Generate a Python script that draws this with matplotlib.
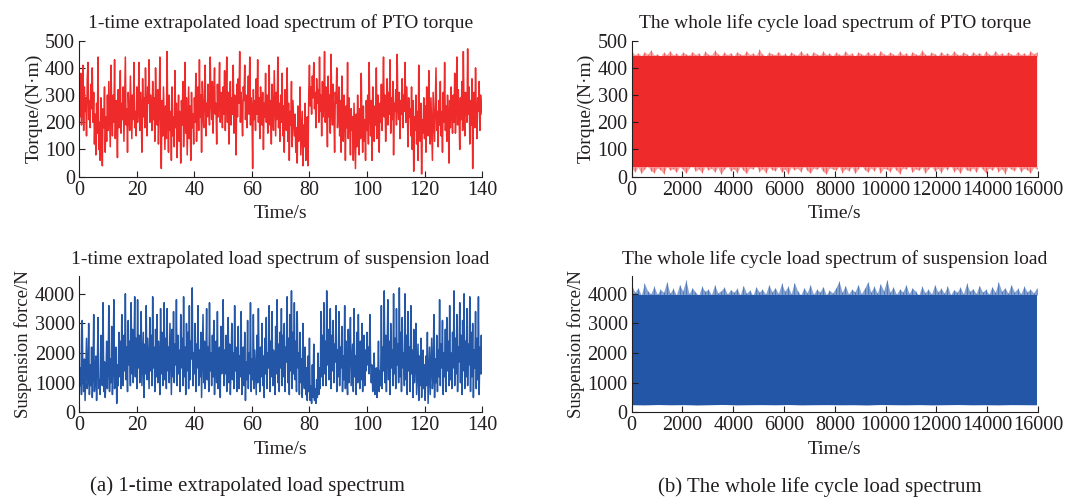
import numpy as np
import matplotlib.pyplot as plt

plt.rcParams['font.family'] = ['Liberation Serif', 'DejaVu Serif']

# 1-time extrapolated PTO torque (N·m), one value every 0.25 s over 0-140 s
torque_1x = [
    300, 220, 380, 190, 260, 410, 170, 330, 240, 290, 150, 360, 420, 210, 280, 180, 340, 250, 400, 200,
    310, 120, 230, 80, 270, 160, 440, 100, 200, 60, 290, 140, 40, 250, 180, 330, 90, 220, 130, 300,
    170, 350, 230, 110, 410, 260, 150, 300, 200, 430, 140, 280, 220, 70, 320, 180, 250, 390, 160, 270,
    210, 330, 130, 280, 440, 190, 250, 90, 310, 230, 170, 370, 260, 140, 300, 210, 420, 180, 240, 150,
    330, 200, 270, 420, 170, 310, 240, 90, 360, 220, 290, 180, 400, 250, 150, 330, 270, 430, 200, 300,
    240, 170, 350, 210, 290, 130, 400, 260, 190, 320, 120, 250, 440, 180, 30, 280, 150, 330, 210, 100,
    260, 140, 460, 200, 90, 300, 170, 240, 60, 330, 150, 220, 110, 390, 180, 270, 70, 210, 300, 130,
    240, 50, 280, 190, 350, 110, 230, 420, 160, 290, 80, 200, 330, 140, 260, 60, 310, 180, 230, 120,
    290, 200, 380, 130, 260, 330, 170, 430, 220, 300, 90, 350, 240, 180, 310, 410, 150, 270, 220, 340,
    250, 190, 440, 280, 210, 350, 160, 300, 400, 230, 270, 120, 340, 220, 290, 420, 200, 310, 260, 180,
    330, 230, 390, 170, 280, 440, 200, 310, 120, 260, 350, 190, 290, 230, 410, 160, 300, 250, 80, 340,
    220, 360, 270, 460, 200, 310, 240, 150, 330, 280, 410, 210, 300, 180, 260, 370, 230, 440, 190, 290,
    250, 30, 320, 210, 280, 170, 360, 230, 430, 200, 290, 140, 330, 250, 190, 310, 100, 270, 220, 380,
    200, 300, 160, 250, 410, 190, 280, 120, 340, 230, 170, 390, 260, 150, 310, 210, 440, 180, 270, 130,
    300, 200, 380, 150, 260, 90, 320, 220, 170, 400, 130, 270, 60, 240, 190, 350, 110, 280, 210, 150,
    230, 90, 180, 50, 260, 130, 200, 330, 80, 160, 240, 40, 190, 110, 270, 60, 150, 220, 40, 300,
    410, 260, 330, 230, 370, 290, 420, 250, 310, 180, 360, 270, 320, 200, 440, 240, 300, 150, 350, 220,
    290, 460, 200, 330, 250, 110, 370, 220, 300, 160, 450, 260, 190, 340, 230, 90, 310, 270, 400, 180,
    240, 330, 150, 280, 90, 370, 200, 130, 300, 230, 60, 260, 180, 420, 140, 290, 210, 80, 250, 170,
    220, 60, 270, 150, 30, 230, 110, 300, 180, 80, 250, 140, 380, 200, 90, 260, 130, 210, 60, 280,
    170, 300, 120, 420, 230, 150, 280, 60, 330, 210, 130, 260, 190, 400, 140, 300, 230, 90, 270, 200,
    340, 170, 280, 440, 220, 300, 130, 260, 360, 190, 310, 230, 430, 160, 290, 210, 350, 80, 270, 240,
    320, 190, 450, 250, 210, 310, 140, 280, 230, 360, 180, 300, 240, 420, 200, 330, 260, 110, 290, 220,
    250, 150, 330, 100, 280, 20, 220, 170, 300, 120, 240, 60, 410, 190, 130, 270, 10, 210, 160, 290,
    140, 260, 90, 330, 200, 150, 390, 230, 120, 290, 180, 60, 310, 220, 130, 270, 400, 170, 240, 110,
    280, 190, 350, 150, 240, 90, 310, 200, 420, 170, 260, 130, 300, 220, 50, 280, 180, 330, 230, 160,
    300, 200, 380, 160, 250, 440, 190, 320, 230, 100, 290, 210, 350, 170, 460, 240, 150, 310, 270, 200,
    470, 230, 330, 120, 280, 190, 360, 30, 250, 310, 180, 400, 220, 140, 290, 240, 350, 170, 300, 260,
    230,
]

# 1-time extrapolated suspension force (N), one value every 0.25 s over 0-140 s
susp_1x = [
    2800, 900, 1500, 600, 3100, 1200, 700, 1800, 400, 1400, 2500, 800, 1100, 3000, 600, 1600, 900, 2200, 500, 1300,
    3300, 700, 1200, 1900, 400, 1500, 3200, 800, 1100, 600, 2600, 1300, 900, 3700, 700, 1700, 500, 1200, 2400, 800,
    1400, 3600, 700, 1800, 1000, 2900, 600, 1500, 3800, 800, 1200, 2200, 300, 1600, 900, 2700, 1200, 2400, 800, 3300,
    1900, 900, 2600, 1400, 4000, 1100, 2200, 700, 3100, 1600, 2400, 900, 3700, 1300, 2800, 1000, 2000, 3900, 1200, 2500,
    800, 3800, 1500, 2600, 1000, 2100, 3400, 900, 1800, 2700, 500, 2300, 1300, 3600, 1100, 2500, 1700, 800, 3200, 1400,
    2600, 900, 3900, 1500, 2200, 700, 2800, 1200, 3300, 1000, 2400, 1700, 600, 3500, 1300, 2700, 900, 2000, 3700, 1100,
    2500, 800, 3500, 1400, 2200, 1000, 3000, 1700, 600, 2800, 1200, 3400, 1000, 2300, 1600, 3800, 900, 2600, 1300, 2100,
    700, 3300, 1500, 2500, 900, 3900, 1200, 2200, 600, 3000, 1400, 2700, 800, 3600, 1100, 2400, 1800, 4200, 900, 2000,
    1300, 3000, 700, 2300, 1500, 3600, 900, 2100, 1200, 2700, 500, 1800, 3300, 1000, 2400, 800, 1600, 3500, 1100, 2200,
    700, 3700, 1400, 2000, 900, 2600, 1200, 3100, 600, 1800, 2400, 1000, 3400, 800, 1600, 2200, 500, 2900, 1300, 1900,
    3800, 900, 2100, 1300, 2600, 700, 1700, 3200, 1000, 2300, 600, 1500, 3000, 1100, 2000, 800, 3600, 1400, 2200, 700,
    1600, 2900, 800, 1900, 1200, 3400, 600, 1500, 2200, 900, 2700, 400, 1700, 1100, 3100, 800, 2000, 1300, 3700, 700,
    1800, 1100, 3300, 800, 2100, 1400, 600, 2600, 1000, 3500, 1500, 700, 2200, 1200, 3000, 900, 1900, 500, 2500, 1300,
    3200, 800, 2000, 1500, 3600, 700, 2400, 1200, 3400, 900, 2100, 1600, 600, 2900, 1300, 3800, 1000, 2300, 700, 2700,
    1500, 3500, 900, 2600, 1200, 3000, 700, 2200, 1700, 3900, 1000, 2500, 600, 3300, 1400, 4100, 800, 2700, 1300, 3700,
    1100, 2400, 700, 3400, 1500, 2000, 600, 2700, 1000, 1800, 500, 3000, 1300, 800, 2200, 600, 1500, 400, 1900, 700,
    2500, 400, 900, 300, 1600, 500, 2300, 400, 800, 300, 1100, 500, 2000, 600, 1500, 800, 3400, 1200, 2600, 900,
    3700, 1300, 2400, 900, 4100, 1600, 2800, 1100, 2000, 3500, 800, 2600, 1400, 3100, 1000, 2300, 1700, 3600, 700, 2100,
    1200, 3400, 900, 2200, 1500, 2900, 700, 1900, 1100, 3600, 800, 2400, 1300, 600, 2800, 1000, 2000, 3200, 900, 1600,
    2300, 700, 3500, 1200, 1900, 600, 2700, 1000, 3300, 1500, 800, 2400, 1100, 3000, 700, 1800, 2600, 900, 2100, 1400,
    2700, 1600, 2200, 1300, 3300, 1800, 1000, 1600, 700, 1300, 2000, 600, 1100, 1500, 500, 1200, 2400, 700, 1400, 900,
    3600, 800, 2200, 1400, 4100, 1000, 2600, 700, 1900, 3800, 1100, 2400, 600, 3000, 1500, 2100, 900, 4000, 1300, 2500,
    800, 3500, 1600, 2300, 1000, 4200, 1200, 2700, 700, 3200, 1500, 2000, 900, 4000, 1100, 2600, 600, 3400, 1400, 2200,
    700, 3600, 1300, 2100, 500, 2800, 1000, 1700, 3000, 600, 1500, 2300, 400, 1900, 900, 2500, 500, 1400, 2100, 800,
    1600, 400, 1900, 900, 2700, 300, 1300, 2200, 600, 1500, 2500, 800, 1200, 3300, 500, 1800, 1000, 2600, 700, 2100,
    1200, 3800, 900, 2300, 1500, 3100, 600, 2000, 1200, 2800, 700, 3200, 1400, 2400, 900, 3600, 1100, 2000, 800, 2700,
    1500, 4100, 900, 2500, 1300, 3300, 700, 2200, 1700, 3700, 1000, 2600, 600, 3100, 1400, 4000, 800, 2400, 1200, 3500,
    900, 2300, 1600, 3900, 700, 2700, 1200, 3000, 500, 2100, 1500, 3400, 800, 2500, 1100, 3900, 600, 2200, 1300, 2600,
    1300,
]

# whole life cycle torque: spike tips above / below the band (N·m)
torque_life_hi = [
    462, 448, 455, 444, 459, 450, 466, 446, 452, 443, 457, 449, 463, 447, 454, 445,
    458, 451, 446, 460, 449, 455, 443, 461, 450, 447, 464, 452, 445, 458, 448, 456,
    444, 459, 451, 447, 462, 449, 455, 446, 468, 450, 444, 457, 452, 448, 460, 446,
    453, 445, 458, 450, 447, 463, 449, 455, 444, 459, 451, 446, 461, 448, 454, 445,
    457, 450, 446, 462, 449, 455, 443, 458, 452, 447, 460, 448, 456, 445, 463, 451,
    447, 458, 450, 446, 461, 449, 455, 444, 459, 451, 447, 464, 450, 446, 457, 452,
    445, 460, 448, 455, 446, 462, 450, 447, 458, 451, 444, 459, 449, 456, 445, 461,
    450, 447, 463, 449, 455, 446, 458, 451, 447, 460, 449, 455, 446, 462, 452, 458,
]
torque_life_lo = [
    30, 18, 35, 12, 28, 40, 22, 15, 33, 26, 11, 38, 24, 30, 16, 36,
    27, 13, 32, 42, 20, 29, 14, 37, 25, 31, 17, 34, 9, 28, 39, 21,
    30, 15, 36, 24, 12, 33, 27, 41, 19, 30, 14, 35, 26, 22, 38, 16,
    29, 11, 34, 25, 31, 18, 40, 23, 13, 32, 27, 36, 20, 10, 33, 28,
    24, 37, 15, 30, 22, 35, 12, 29, 41, 26, 17, 33, 21, 38, 14, 31,
    27, 19, 36, 24, 11, 32, 28, 40, 16, 30, 23, 35, 13, 29, 37, 20,
    31, 15, 34, 26, 42, 18, 30, 12, 36, 25, 21, 33, 16, 39, 27, 14,
    32, 24, 37, 19, 30, 11, 35, 28, 22, 40, 17, 31, 26, 13, 34, 29,
]
torque_life_core = (36, 444)

# whole life cycle suspension force: spike tips above / below the band (N)
susp_life_hi = [
    4300, 4050, 4200, 3950, 4350, 4100, 4000, 4250, 3980, 4150, 4050, 4400, 4020, 4180, 3960, 4300,
    4100, 4450, 4000, 4200, 4060, 3950, 4250, 4080, 4150, 3970, 4300, 4030, 4100, 4220, 3990, 4140,
    4050, 4180, 3960, 4280, 4020, 4120, 3950, 4230, 4060, 4150, 3990, 4300, 4070, 4200, 4010, 4350,
    4080, 4250, 4000, 4380, 4100, 3960, 4200, 4040, 4300, 3980, 4150, 4060, 4240, 3970, 4120, 4030,
    4200, 4420, 4050, 4280, 3990, 4150, 4070, 4310, 4000, 4180, 4400, 4060, 4250, 4020, 4330, 4100,
    4470, 4050, 4230, 3980, 4160, 4060, 4300, 4010, 4200, 4080, 3960, 4250, 4040, 4150, 3990, 4300,
    4070, 4180, 4020, 4260, 3970, 4140, 4050, 4220, 4000, 4350, 4080, 4170, 4010, 4280, 4060, 4150,
    3990, 4240, 4050, 4400, 4080, 4200, 4020, 4310, 4060, 4180, 4000, 4250, 4070, 4150, 4030, 4200,
]
susp_life_lo = [
    250, 240, 260, 245, 255, 235, 250, 265, 240, 250, 255, 245, 260, 240, 250, 255,
    245, 250, 235, 260, 250, 245, 255, 240, 250, 260, 245, 250, 240, 255, 250, 245,
]
susp_life_core = (262, 3960)

life_end = 15950

red = '#ee2a2a'
blue = '#2356a6'
ink = '#231f20'

fig = plt.figure(figsize=(10.75, 4.97), dpi=100)
ax_tl = fig.add_axes([0.0738, 0.6445, 0.3746, 0.2736])
ax_tr = fig.add_axes([0.5876, 0.6445, 0.3780, 0.2736])
ax_bl = fig.add_axes([0.0738, 0.1704, 0.3746, 0.2742])
ax_br = fig.add_axes([0.5876, 0.1704, 0.3780, 0.2742])

# 1-time spectra
t_1x = np.linspace(0, 140, len(torque_1x))
ax_tl.plot(t_1x, torque_1x, color=red, lw=1.1)
t_s1x = np.linspace(0, 140, len(susp_1x))
ax_bl.plot(t_s1x, susp_1x, color=blue, lw=1.1)

# whole life cycle bands: solid body, jagged lighter fringe and thin spikes
t_hi = np.linspace(0, life_end, len(torque_life_hi))
ax_tr.fill_between(t_hi, torque_life_lo, torque_life_hi, color=red, lw=0, alpha=0.45)
ax_tr.fill_between([0, life_end], *torque_life_core, color=red, lw=0)
ax_tr.vlines(t_hi, torque_life_core[1], torque_life_hi, color=red, lw=0.8, alpha=0.5)
ax_tr.vlines(t_hi, torque_life_lo, torque_life_core[0], color=red, lw=0.8, alpha=0.5)

t_shi = np.linspace(0, life_end, len(susp_life_hi))
t_slo = np.linspace(0, life_end, len(susp_life_lo))
ax_br.fill_between(t_shi, susp_life_core[1], susp_life_hi, color=blue, lw=0, alpha=0.55)
ax_br.fill_between(t_slo, susp_life_lo, susp_life_core[0], color=blue, lw=0, alpha=0.6)
ax_br.fill_between([0, life_end], *susp_life_core, color=blue, lw=0)
ax_br.vlines(t_shi, susp_life_core[1], susp_life_hi, color=blue, lw=0.8, alpha=0.5)

titles = [
    (ax_tl, '1-time extrapolated load spectrum of PTO torque'),
    (ax_tr, 'The whole life cycle load spectrum of PTO torque'),
    (ax_bl, '1-time extrapolated load spectrum of suspension load'),
    (ax_br, 'The whole life cycle load spectrum of suspension load'),
]
for ax, title in titles:
    ax.set_title(title, fontsize=14, color=ink, pad=9)
    ax.spines['top'].set_visible(False)
    ax.spines['right'].set_visible(False)
    ax.spines['left'].set_color(ink)
    ax.spines['bottom'].set_color(ink)
    ax.tick_params(direction='in', length=4, width=0.8, colors=ink,
                   labelsize=14.5, pad=3)
    ax.set_xlabel('Time/s', fontsize=14, color=ink, labelpad=4)

for ax in (ax_tl, ax_bl):
    ax.set_xlim(0, 140)
    ax.set_xticks(np.arange(0, 141, 20))
for ax in (ax_tr, ax_br):
    ax.set_xlim(0, 16000)
    ax.set_xticks(np.arange(0, 16001, 2000))

for ax in (ax_tl, ax_tr):
    ax.set_ylim(0, 500)
    ax.set_yticks(np.arange(0, 501, 100))
    ax.set_ylabel('Torque/(N·m)', fontsize=14, color=ink, labelpad=2)
for ax in (ax_bl, ax_br):
    ax.set_ylim(0, 4600)
    ax.set_yticks(np.arange(0, 4001, 1000))
    ax.set_ylabel('Suspension force/N', fontsize=13.5, color=ink, labelpad=2)

fig.text(0.23, 0.021, '(a) 1-time extrapolated load spectrum',
         fontsize=15, color=ink, ha='center', va='center')
fig.text(0.763, 0.021, '(b) The whole life cycle load spectrum',
         fontsize=15, color=ink, ha='center', va='center')

fig.savefig('out.png', dpi=100)
